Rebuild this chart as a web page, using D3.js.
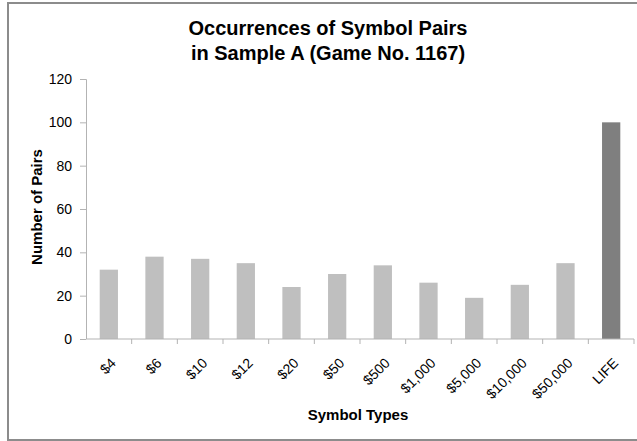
<html>
<head>
<script src="https://d3js.org/d3.v7.min.js"></script>
<style>
  body { margin: 0; background: white; }
  * { font-family: Arial, "Liberation Sans", sans-serif; }
  .axis path, .axis line { stroke: #b3b3b3; }
  .axis text { fill: #000; font-size: 14px; }
  .label { font-weight: bold; font-size: 15px; }
  .title { font-weight: bold; font-size: 20px; }
</style>
</head>
<body>
<svg id="chart" width="637" height="441"></svg>
<script>
  const symbols = ["$4", "$6", "$10", "$12", "$20", "$50", "$500", "$1,000", "$5,000", "$10,000", "$50,000", "LIFE"];
  const pairs = [32, 38, 37, 35, 24, 30, 34, 26, 19, 25, 35, 100];
  const yTicks = [0, 20, 40, 60, 80, 100, 120];

  const svg = d3.select("#chart");
  const margins = { top: 79, right: 3, bottom: 102, left: 86 };
  const width = +svg.attr("width");
  const height = +svg.attr("height");
  const plotWidth = width - margins.left - margins.right;
  const plotHeight = height - margins.top - margins.bottom;

  // frame
  svg.append("path")
    .attr("d", `M${width + 5},3 H8 V440 H${width + 5}`)
    .attr("fill", "none")
    .attr("stroke", "#8c8c8c")
    .attr("stroke-width", 2);

  const xScale = d3.scaleBand().domain(symbols).range([0, plotWidth]).paddingInner(0.6).paddingOuter(0.3);
  const yScale = d3.scaleLinear().domain([0, 120]).range([plotHeight, 0]);

  const plotArea = svg.append("g").attr("transform", `translate(${margins.left},${margins.top})`);

  // y axis
  plotArea.append("g")
    .attr("class", "y axis")
    .call(d3.axisLeft(yScale).tickValues(yTicks).tickSize(6).tickPadding(8))
    .call(g => g.select(".domain").attr("d", `M-6,0.5H0.5V${plotHeight}`));

  // bars
  plotArea.selectAll("rect").data(symbols)
    .join("rect")
    .attr("x", d => xScale(d))
    .attr("width", xScale.bandwidth())
    .attr("y", (d, i) => yScale(pairs[i]))
    .attr("height", (d, i) => plotHeight - yScale(pairs[i]))
    .attr("fill", d => d === "LIFE" ? "#7f7f7f" : "#bfbfbf");

  // x axis with boundary ticks between categories
  const bounds = d3.range(symbols.length + 1);
  const xAxis = plotArea.append("g")
    .attr("class", "x axis")
    .attr("transform", `translate(0,${plotHeight})`);
  xAxis.append("line")
    .attr("x1", 0).attr("x2", plotWidth)
    .attr("stroke", "#b3b3b3");
  xAxis.selectAll("line.tick").data(bounds.slice(1))
    .join("line")
    .attr("class", "tick")
    .attr("x1", d => d * plotWidth / symbols.length)
    .attr("x2", d => d * plotWidth / symbols.length)
    .attr("y1", 0).attr("y2", 5)
    .attr("stroke", "#b3b3b3");
  xAxis.selectAll("text").data(symbols)
    .join("text")
    .attr("text-anchor", "end")
    .attr("transform", d => `translate(${xScale(d) + xScale.bandwidth() / 2 + 8},${25}) rotate(-45)`)
    .text(d => d);

  // title
  svg.append("text").attr("class", "title").attr("x", 328).attr("y", 35)
    .attr("text-anchor", "middle").text("Occurrences of Symbol Pairs");
  svg.append("text").attr("class", "title").attr("x", 328).attr("y", 60)
    .attr("text-anchor", "middle").text("in Sample A (Game No. 1167)");

  // axis labels
  svg.append("text").attr("class", "label")
    .attr("transform", `translate(42,207) rotate(-90)`)
    .attr("text-anchor", "middle").text("Number of Pairs");
  svg.append("text").attr("class", "label")
    .attr("x", 358).attr("y", 420)
    .attr("text-anchor", "middle").text("Symbol Types");
</script>
</body>
</html>
